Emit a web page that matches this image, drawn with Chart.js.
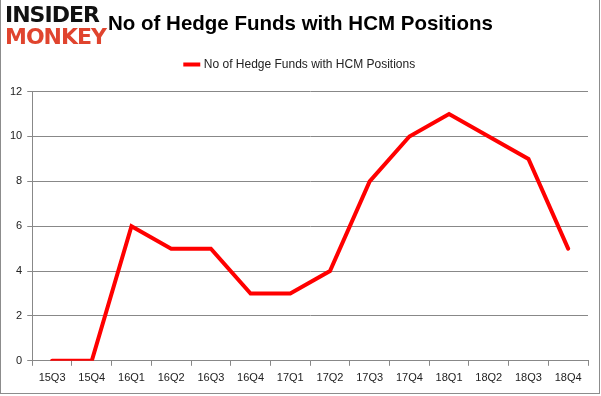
<!DOCTYPE html>
<html><head><meta charset="utf-8">
<script src="https://cdn.jsdelivr.net/npm/chart.js@4/dist/chart.umd.min.js"></script>
<style>
html,body{margin:0;padding:0;background:#fff;}
#wrap{position:relative;width:601px;height:396px;overflow:hidden;}
#frame{position:absolute;left:0;top:0;width:598px;height:393px;border:1px solid #8c8c8c;border-top:none;pointer-events:none;}
#logo{position:absolute;left:5px;top:4px;font-family:"DejaVu Sans",sans-serif;font-weight:900;line-height:22px;font-size:22px;letter-spacing:-1px;}
#logo .a{color:#111;}
#logo .b{color:#e0442e;}
</style></head>
<body><div id="wrap"><canvas id="c" width="601" height="396"></canvas><div id="frame"></div>
<div id="logo"><div class="a">INSIDER</div><div class="b">MONKEY</div></div></div>
<script>
const categories = ["15Q3","15Q4","16Q1","16Q2","16Q3","16Q4","17Q1","17Q2","17Q3","17Q4","18Q1","18Q2","18Q3","18Q4"];
const funds = [0,0,6,5,5,3,3,4,8,10,11,10,9,5];
const seriesName = "No of Hedge Funds with HCM Positions";
const titleText = "No of Hedge Funds with HCM Positions";

const legendPad = { id: 'legendPad',
  beforeInit(chart) {
    const f = chart.legend.fit;
    chart.legend.fit = function () { f.call(this); this.height += 11; };
  },
  afterLayout(chart) {
    [chart.titleBlock, chart.legend].forEach(b => { if (b) { b.left = 0; b.right = chart.width; b.width = chart.width; } });
  }
};

new Chart(document.getElementById('c'), {
  type: 'line',
  data: { labels: categories, datasets: [{ label: seriesName, data: funds, borderColor: '#ff0000', backgroundColor: '#ff0000', borderWidth: 4, pointRadius: 0, tension: 0, borderCapStyle: 'round', borderJoinStyle: 'miter' }] },
  plugins: [legendPad],
  options: {
    responsive: false, animation: false,
    layout: { padding: { left: 5, right: 13, top: 6, bottom: 5 } },
    plugins: {
      title: { display: true, text: titleText, color: '#000', font: { family: 'Liberation Sans', size: 20.5, weight: 'bold' }, padding: { top: 6, bottom: 12 } },
      legend: { display: true, labels: { color: '#222', font: { family: 'Liberation Sans', size: 12 }, usePointStyle: true, pointStyle: 'line', boxWidth: 28, padding: 10 } },
      tooltip: { enabled: false }
    },
    scales: {
      x: { offset: true, grid: { display: true, offset: true, drawOnChartArea: false, drawTicks: true, tickLength: 5, color: '#888' }, border: { color: '#888' }, ticks: { color: '#222', font: { family: 'Liberation Sans', size: 11 }, padding: 6, maxRotation: 0 } },
      y: { min: 0, max: 12, ticks: { stepSize: 2, color: '#222', font: { family: 'Liberation Sans', size: 11 }, padding: 5 }, grid: { color: '#888', tickLength: 5 }, border: { color: '#888' } }
    }
  }
});
</script></body></html>
